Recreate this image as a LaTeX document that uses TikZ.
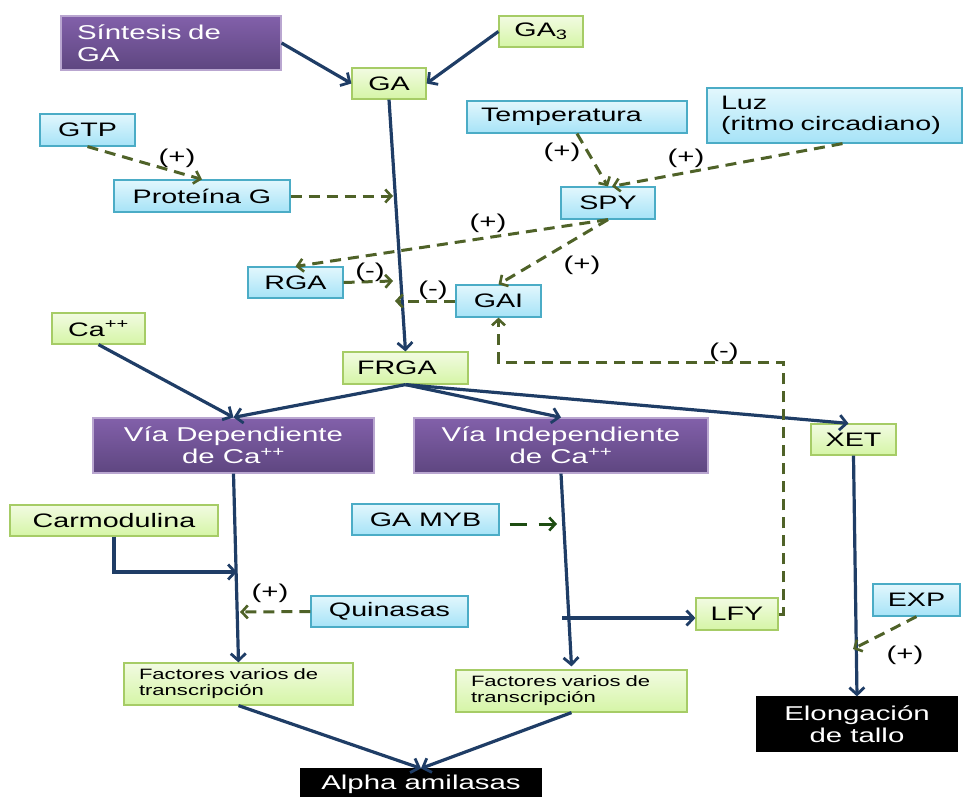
\documentclass[tikz,border=0pt]{standalone}
\usepackage{fontspec}
\setmainfont{Liberation Sans}[FakeStretch=1.47]
\usetikzlibrary{arrows.meta}
\definecolor{navy}{HTML}{1F3D66}
\definecolor{olive}{HTML}{4F6228}
\definecolor{dkgreen}{HTML}{1E4D12}
\definecolor{gbord}{HTML}{A6CC66}
\definecolor{gtop}{HTML}{F2FBE2}
\definecolor{gbot}{HTML}{D5F5A6}
\definecolor{bbord}{HTML}{4BACC6}
\definecolor{btop}{HTML}{E2F7FD}
\definecolor{bbot}{HTML}{A6E3F7}
\definecolor{ptop}{HTML}{8260AA}
\definecolor{pbot}{HTML}{5E4680}
\definecolor{pbord}{HTML}{B9A6D0}
\tikzset{
  bx/.style={draw, inner sep=0pt, line width=1.2pt, font=\fontsize{19.5}{21}\selectfont},
  gbox/.style={bx, draw=gbord, top color=gtop, bottom color=gbot},
  bbox/.style={bx, draw=bbord, top color=btop, bottom color=bbot},
  pbox/.style={bx, draw=pbord, top color=ptop, bottom color=pbot, text=white, font=\fontsize{20}{22}\selectfont},
  kbox/.style={bx, draw=black, fill=black, text=white, font=\fontsize{20}{22}\selectfont},
  nav/.style={draw=navy, line width=3.2pt, -{Straight Barb[length=7pt,width=15pt,line width=2.8pt]}},
  dsh/.style={draw=olive, line width=3pt, dash pattern=on 11pt off 7pt, -{Straight Barb[length=6pt,width=13pt,line width=2.6pt]}},
  lab/.style={inner sep=0pt, font=\fontsize{20}{22}\selectfont}
}
\begin{document}
\begin{tikzpicture}[x=1pt,y=-1pt]
\useasboundingbox (0,0) rectangle (963,797);
% nodes
\node[pbox, minimum width=220pt, minimum height=54pt, text width=188pt, align=left] (syn) at (171,43) {Síntesis de\\GA};
\node[gbox, minimum width=84pt, minimum height=31pt] (ga3) at (541,31.5) {GA\textsubscript{3}};
\node[gbox, minimum width=74pt, minimum height=31pt] (ga) at (389,83.5) {GA};
\node[bbox, minimum width=95pt, minimum height=32pt] (gtp) at (87.5,130) {GTP};
\node[bbox, minimum width=176pt, minimum height=32pt] (prot) at (202,196) {Proteína G};
\node[bbox, minimum width=220pt, minimum height=32pt, text width=192pt, align=left] (temp) at (577,117) {Temperatura};
\node[bbox, minimum width=255pt, minimum height=55pt, text width=227pt, align=left] (luz) at (834.5,115.5) {Luz\\(ritmo circadiano)};
\node[bbox, minimum width=94pt, minimum height=32pt] (spy) at (608,203) {SPY};
\node[bbox, minimum width=95pt, minimum height=31pt] (rga) at (295.5,282.5) {RGA};
\node[bbox, minimum width=85pt, minimum height=32pt] (gai) at (498.5,301) {GAI};
\node[gbox, minimum width=93pt, minimum height=31pt] (ca) at (98.5,328.5) {Ca\textsuperscript{++}};
\node[gbox, minimum width=125pt, minimum height=32pt, text width=97pt, align=left] (frga) at (405.5,368) {FRGA};
\node[pbox, minimum width=281pt, minimum height=55pt, align=center] (vdep) at (233.5,445.5) {Vía Dependiente\\de Ca\textsuperscript{++}};
\node[pbox, minimum width=294pt, minimum height=55pt, align=center] (vind) at (561,445.5) {Vía Independiente\\de Ca\textsuperscript{++}};
\node[gbox, minimum width=85pt, minimum height=31pt] (xet) at (853.5,439.5) {XET};
\node[gbox, minimum width=208pt, minimum height=31pt] (carm) at (114,520.5) {Carmodulina};
\node[bbox, minimum width=147pt, minimum height=31pt] (myb) at (425.5,519.5) {GA MYB};
\node[bbox, minimum width=157pt, minimum height=31pt] (quin) at (389.5,611.5) {Quinasas};
\node[gbox, minimum width=229pt, minimum height=42pt, text width=199pt, align=left, font=\fontsize{15}{16}\selectfont] (factl) at (238.5,684) {Factores varios de\\transcripción};
\node[gbox, minimum width=231pt, minimum height=42pt, text width=201pt, align=left, font=\fontsize{15}{16}\selectfont] (factr) at (571.5,691) {Factores varios de\\transcripción};
\node[gbox, minimum width=82pt, minimum height=32pt] (lfy) at (737,614) {LFY};
\node[bbox, minimum width=87pt, minimum height=32pt] (exp) at (916.5,600) {EXP};
\node[kbox, minimum width=200pt, minimum height=54pt, align=center] (elong) at (857,724) {Elongación\\de tallo};
\node[kbox, minimum width=240pt, minimum height=31pt] (alpha) at (421,784.5) {Alpha amilasas};
% coordinates
\coordinate (pgend) at (393,196);
\coordinate (rgaend) at (393,281);
\coordinate (gaiend) at (395,301);
\coordinate (corner) at (783,362);
\coordinate (carmend) at (237,572);
\coordinate (quinend) at (240,612);
\coordinate (mybend) at (557,524);
\coordinate (lfystart) at (562,618);
\coordinate (expend) at (853,649);
% navy connectors
\draw[nav] (syn.east) -- (ga.west);
\draw[nav] (ga3.west) -- (ga.east);
\draw[nav] (ga.south) -- (frga.north);
\draw[nav] (ca.south) -- (vdep.north);
\draw[nav] (frga.south) -- (vdep.north);
\draw[nav] (frga.south) -- (vind.north);
\draw[nav] (frga.south) -- ([xshift=-5pt]xet.north);
\draw[nav] (vdep.south) -- (factl.north);
\draw[nav] (vind.south) -- ([yshift=3pt]factr.north);
\draw[nav] (carm.south) |- (carmend);
\draw[nav] (lfystart) -- (lfystart -| lfy.west);
\draw[nav] (xet.south) -- (elong.north);
\draw[nav] (factl.south) -- (alpha.north);
\draw[nav] (factr.south) -- (alpha.north);
% dashed connectors
\draw[dsh] (gtp.south) -- (prot.north);
\draw[dsh] (prot.east) -- (pgend);
\draw[dsh] (temp.south) -- (spy.north);
\draw[dsh] ([xshift=8pt]luz.south) -- ([xshift=4pt]spy.north);
\draw[dsh] (spy.south) -- (rga.north);
\draw[dsh] (spy.south) -- (gai.north);
\draw[dsh] (rga.east) -- (rgaend);
\draw[dsh] (gai.west) -- (gaiend);
\draw[dsh] (lfy.east) -| (corner) -| (gai.south);
\draw[dsh] (quin.west) -- (quinend);
\draw[dsh] (exp.south) -- (expend);
\draw[draw=dkgreen, line width=3pt, dash pattern=on 17pt off 12pt, dash phase=19pt, -{Straight Barb[length=6pt,width=13pt,line width=2.6pt]}] ([yshift=-4.5pt]myb.east) -- (mybend);
% labels
\node[lab] (l1) at (177,158) {(+)};
\node[lab] (l2) at (562,152) {(+)};
\node[lab] (l3) at (686,158) {(+)};
\node[lab] (l4) at (488,223) {(+)};
\node[lab] (l5) at (582,265) {(+)};
\node[lab] (l6) at (370,272) {(-)};
\node[lab] (l7) at (433,290) {(-)};
\node[lab] (l8) at (724,352) {(-)};
\node[lab] (l9) at (270,593) {(+)};
\node[lab] (l10) at (905,655) {(+)};
\end{tikzpicture}
\end{document}
